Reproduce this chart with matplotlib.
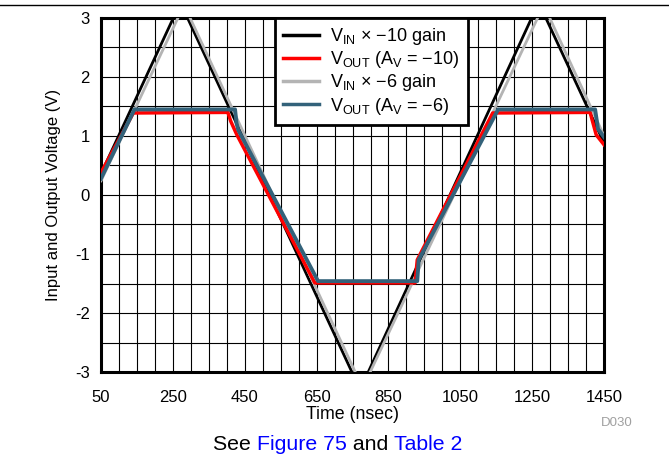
import matplotlib as mpl
mpl.use('Agg')
import matplotlib.pyplot as plt
from matplotlib.ticker import MultipleLocator

plt.rcParams['font.family'] = ['Liberation Sans', 'DejaVu Sans']
plt.rcParams['mathtext.fontset'] = 'custom'
plt.rcParams['mathtext.rm'] = 'Liberation Sans'

# corner points of each trace (time in nsec, volts)
black_t = [50, 271, 771, 1268, 1450]
black_v = [0.36, 3.26, -3.30, 3.26, 0.88]

gray_t = [50, 281, 778, 1282, 1450]
gray_v = [0.24, 3.22, -3.27, 3.22, 1.00]

red_t = [50, 140, 403, 411, 428, 645, 924, 930, 1140, 1411, 1428, 1450]
red_v = [0.38, 1.39, 1.40, 1.25, 1.02, -1.49, -1.49, -1.10, 1.39, 1.40, 1.02, 0.85]

blue_t = [50, 143, 423, 427, 432, 654, 930, 934, 1155, 1425, 1433, 1450]
blue_v = [0.28, 1.45, 1.45, 1.22, 1.10, -1.46, -1.46, -1.10, 1.45, 1.45, 1.12, 0.98]

x_ticks = [50, 250, 450, 650, 850, 1050, 1250, 1450]
y_ticks = [-3, -2, -1, 0, 1, 2, 3]

fig = plt.figure(figsize=(6.69, 4.66), dpi=100)
ax = fig.add_axes([0.151, 0.2017, 0.752, 0.7597])

ax.plot(black_t, black_v, color='black', lw=2, label=r'V$_{\mathregular{IN}}$ × −10 gain', zorder=3)
ax.plot(red_t, red_v, color='#FF0000', lw=2.5, label=r'V$_{\mathregular{OUT}}$ (A$_{\mathregular{V}}$ = −10)', zorder=4)
ax.plot(gray_t, gray_v, color='#B4B4B4', lw=2, label=r'V$_{\mathregular{IN}}$ × −6 gain', zorder=3)
ax.plot(blue_t, blue_v, color='#33627A', lw=2.8, label=r'V$_{\mathregular{OUT}}$ (A$_{\mathregular{V}}$ = −6)', zorder=5)

ax.set_xlim(50, 1450)
ax.set_ylim(-3, 3)
ax.set_xticks(x_ticks)
ax.set_yticks(y_ticks)
ax.set_yticklabels([str(v) for v in y_ticks])
ax.xaxis.set_minor_locator(MultipleLocator(50))
ax.yaxis.set_minor_locator(MultipleLocator(0.5))
ax.grid(which='both', color='black', lw=0.8)
ax.set_axisbelow(True)
ax.tick_params(which='both', length=0, labelsize=12)
ax.tick_params(axis='x', pad=13)
ax.tick_params(axis='y', pad=8)
for s in ax.spines.values():
    s.set_linewidth(2.2)

ax.set_xlabel('Time (nsec)', fontsize=12.8, labelpad=1)
ax.set_ylabel('Input and Output Voltage (V)', fontsize=12, labelpad=10)

leg = ax.legend(loc='upper left', bbox_to_anchor=(0.346, 1.0), fontsize=13,
                frameon=True, fancybox=False, framealpha=1, edgecolor='black',
                handlelength=2.0, handletextpad=0.6, labelspacing=0.12,
                borderpad=0.45, borderaxespad=0)
leg.get_frame().set_linewidth(2)
for h in leg.get_lines():
    h.set_linewidth(2.5)

# rule at the very top of the page
fig.add_artist(plt.Line2D([0, 1], [1 - 5 / 466, 1 - 5 / 466], color='black', lw=1))

fig.text(601 / 669, 1 - 423 / 466, 'D030', color='#A0A0A0', fontsize=9.5, ha='left', va='center')

# caption with blue links
fig.canvas.draw()
renderer = fig.canvas.get_renderer()
parts = [('See ', 'black'), ('Figure 75', '#0000FF'), (' and ', 'black'), ('Table 2', '#0000FF')]
x = 213 / 669
y = 1 - 445 / 466
for s, c in parts:
    t = fig.text(x, y, s, color=c, fontsize=15.3, ha='left', va='center')
    bb = t.get_window_extent(renderer)
    x += bb.width / fig.bbox.width

fig.savefig('out.png', dpi=100)
